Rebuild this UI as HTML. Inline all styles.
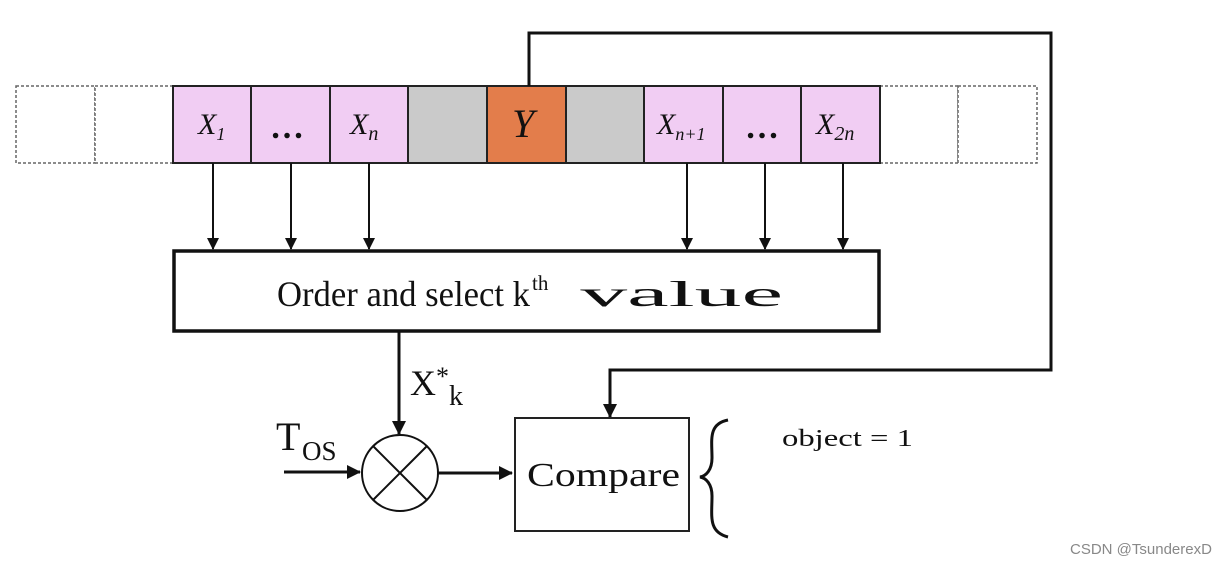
<!DOCTYPE html>
<html><head><meta charset="utf-8"><style>
html,body{margin:0;padding:0;background:#fff;}
svg{display:block;}
text{font-family:"Liberation Serif",serif;fill:#111;}
</style></head><body>
<svg width="1229" height="563" viewBox="0 0 1229 563" xmlns="http://www.w3.org/2000/svg">
<defs>
<marker id="ah" markerWidth="12" markerHeight="12" refX="11" refY="6" orient="auto" markerUnits="userSpaceOnUse">
<path d="M0,0 L12,6 L0,12 z" fill="#111"/></marker>
<marker id="ah2" markerWidth="14" markerHeight="14" refX="13" refY="7" orient="auto" markerUnits="userSpaceOnUse">
<path d="M0,0 L14,7 L0,14 z" fill="#111"/></marker>
</defs>
<rect x="16" y="86" width="79" height="77" fill="#fff" stroke="#666" stroke-dasharray="3,2" stroke-width="1.5"/>
<rect x="95" y="86" width="78" height="77" fill="#fff" stroke="#666" stroke-dasharray="3,2" stroke-width="1.5"/>
<rect x="880" y="86" width="78" height="77" fill="#fff" stroke="#666" stroke-dasharray="3,2" stroke-width="1.5"/>
<rect x="958" y="86" width="79" height="77" fill="#fff" stroke="#666" stroke-dasharray="3,2" stroke-width="1.5"/>
<g stroke="#222" stroke-width="2">
<rect x="173" y="86" width="78" height="77" fill="#f1cdf3"/>
<rect x="251" y="86" width="79" height="77" fill="#f1cdf3"/>
<rect x="330" y="86" width="78" height="77" fill="#f1cdf3"/>
<rect x="408" y="86" width="79" height="77" fill="#cacaca"/>
<rect x="487" y="86" width="79" height="77" fill="#e37d4b"/>
<rect x="566" y="86" width="78" height="77" fill="#cacaca"/>
<rect x="644" y="86" width="79" height="77" fill="#f1cdf3"/>
<rect x="723" y="86" width="78" height="77" fill="#f1cdf3"/>
<rect x="801" y="86" width="79" height="77" fill="#f1cdf3"/>
</g>
<g font-style="italic" font-size="30">
<text x="198" y="134">X<tspan font-size="18" dy="6">1</tspan></text>
<text x="270" y="138" font-style="normal" font-size="34" font-weight="bold" letter-spacing="1">…</text>
<text x="350" y="134">X<tspan font-size="20" dy="6">n</tspan></text>
<text x="512" y="137" font-size="40">Y</text>
<text x="657" y="134">X<tspan font-size="18" dy="6">n+1</tspan></text>
<text x="745" y="138" font-style="normal" font-size="34" font-weight="bold" letter-spacing="1">…</text>
<text x="816" y="134">X<tspan font-size="20" dy="6">2n</tspan></text>
</g>
<g stroke="#111" stroke-width="2" marker-end="url(#ah)">
<line x1="213" y1="163" x2="213" y2="249"/>
<line x1="291" y1="163" x2="291" y2="249"/>
<line x1="369" y1="163" x2="369" y2="249"/>
<line x1="687" y1="163" x2="687" y2="249"/>
<line x1="765" y1="163" x2="765" y2="249"/>
<line x1="843" y1="163" x2="843" y2="249"/>
</g>
<rect x="174" y="251" width="705" height="80" fill="#fff" stroke="#111" stroke-width="3.5"/>
<text x="277" y="306" font-size="36" textLength="253" lengthAdjust="spacingAndGlyphs">Order and select k</text>
<text x="532" y="290" font-size="21">th</text>
<text x="557" y="306" font-size="36" textLength="226" lengthAdjust="spacingAndGlyphs">&#160;value</text>
<polyline points="529,86 529,33 1051,33 1051,370 610,370 610,417" fill="none" stroke="#111" stroke-width="3" marker-end="url(#ah2)"/>
<line x1="399" y1="331" x2="399" y2="434" stroke="#111" stroke-width="3" marker-end="url(#ah2)"/>
<text x="410" y="395" font-size="36">X<tspan font-size="26" dy="-10">*</tspan><tspan font-size="28" dy="20">k</tspan></text>
<text x="276" y="450" font-size="40">T</text>
<text x="302" y="460" font-size="27">OS</text>
<line x1="284" y1="472" x2="360" y2="472" stroke="#111" stroke-width="3" marker-end="url(#ah2)"/>
<circle cx="400" cy="473" r="38" fill="#fff" stroke="#111" stroke-width="2"/>
<line x1="373" y1="446" x2="427" y2="500" stroke="#111" stroke-width="2"/>
<line x1="427" y1="446" x2="373" y2="500" stroke="#111" stroke-width="2"/>
<line x1="438" y1="473" x2="512" y2="473" stroke="#111" stroke-width="3" marker-end="url(#ah2)"/>
<rect x="515" y="418" width="174" height="113" fill="#fff" stroke="#222" stroke-width="2"/>
<text x="527" y="486" font-size="34" textLength="153" lengthAdjust="spacingAndGlyphs">Compare</text>
<path d="M728,420 C708,424 712,440 712,458 C712,470 706,476 700,477 C706,478 712,484 712,496 C712,516 708,532 728,537" fill="none" stroke="#111" stroke-width="3"/>
<text x="782" y="446" font-size="24" textLength="131" lengthAdjust="spacingAndGlyphs">object = 1</text>
<text x="1070" y="554" font-size="15" style="font-family:'Liberation Sans',sans-serif;fill:#888">CSDN @TsunderexD</text>
</svg>
</body></html>
